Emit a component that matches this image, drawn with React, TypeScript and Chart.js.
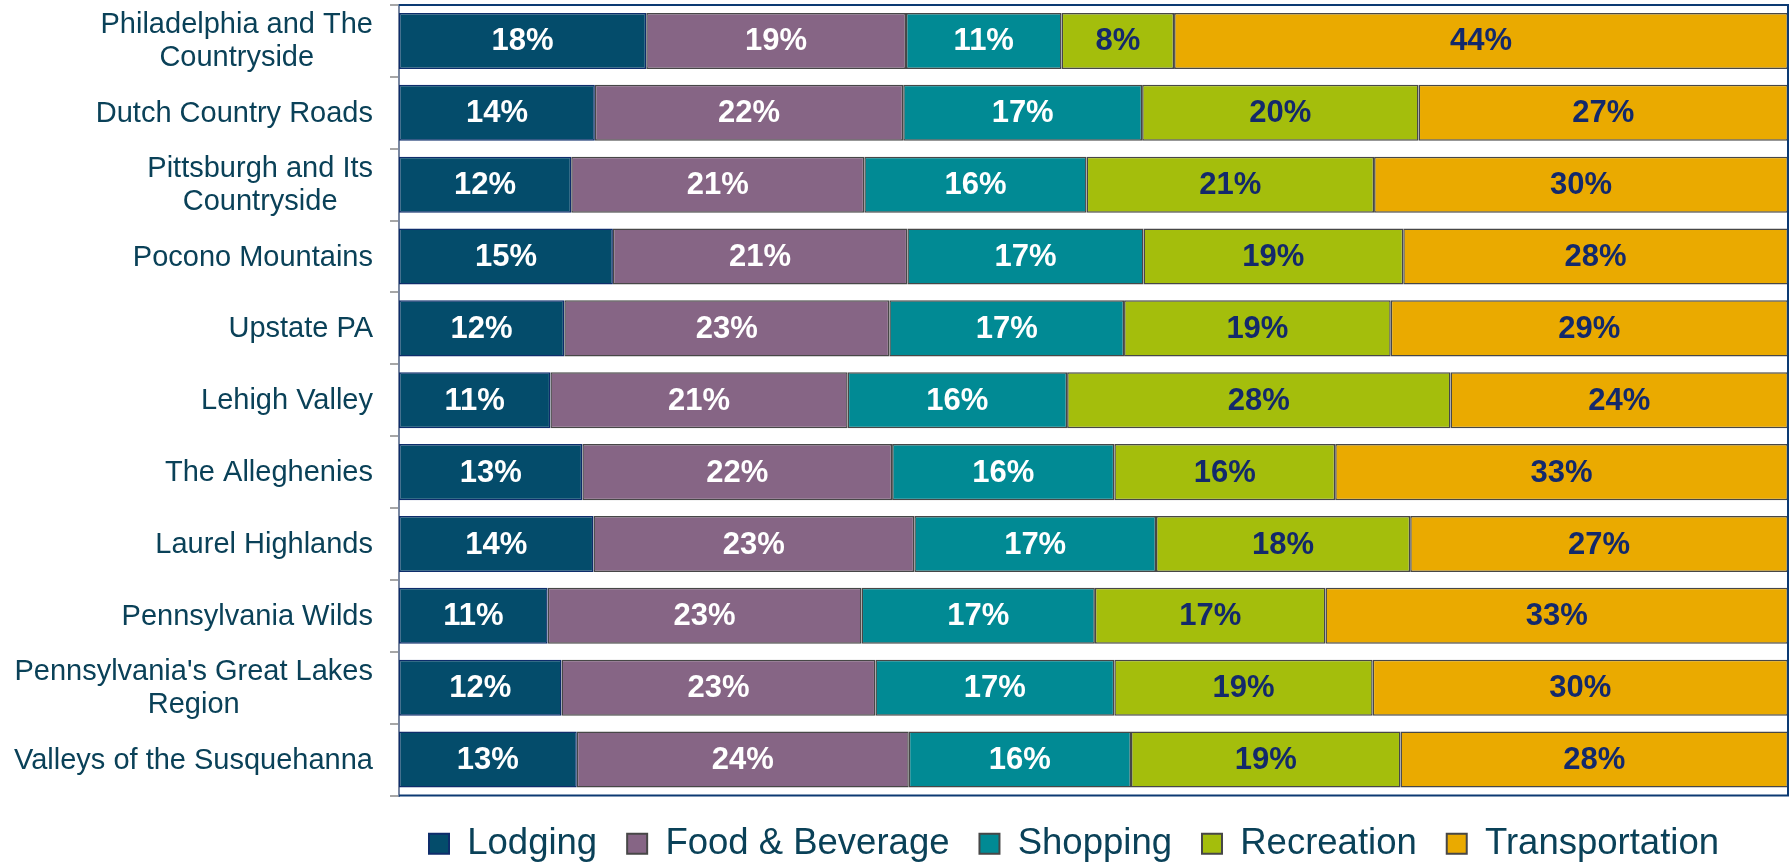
import React, { useEffect, useRef } from "react";
import { Chart, registerables } from "chart.js";

Chart.register(...registerables);

const regions: (string | string[])[] = [
  ["Philadelphia and The", "Countryside"],
  "Dutch Country Roads",
  ["Pittsburgh and Its", "Countryside"],
  "Pocono Mountains",
  "Upstate PA",
  "Lehigh Valley",
  "The Alleghenies",
  "Laurel Highlands",
  "Pennsylvania Wilds",
  ["Pennsylvania's Great Lakes", "Region"],
  "Valleys of the Susquehanna",
];

const seriesNames = ["Lodging", "Food & Beverage", "Shopping", "Recreation", "Transportation"];

const lodging = [17.8, 14.1, 12.4, 15.4, 11.9, 10.9, 13.2, 14.0, 10.7, 11.7, 12.8];
const foodBeverage = [18.7, 22.2, 21.1, 21.2, 23.4, 21.4, 22.3, 23.1, 22.6, 22.6, 23.9];
const shopping = [11.2, 17.2, 16.0, 17.0, 16.9, 15.8, 16.0, 17.4, 16.8, 17.2, 16.0];
const recreation = [8.1, 19.9, 20.7, 18.7, 19.2, 27.6, 15.9, 18.3, 16.6, 18.6, 19.4];
const transportation = [44.2, 26.6, 29.8, 27.7, 28.6, 24.3, 32.6, 27.2, 33.3, 29.9, 27.9];

const fills = ["#044C6B", "#866585", "#018A94", "#A4BE0C", "#EAAA00"];
const borders = ["#0E2D6B", "#474747", "#474747", "#474747", "#474747"];
const labelColors = ["#FFFFFF", "#FFFFFF", "#FFFFFF", "#13296B", "#13296B"];

const FONT = "'Liberation Sans', Arial, sans-serif";
const TEXT = "#0A4158";

export default function App() {
  const ref = useRef<HTMLCanvasElement | null>(null);

  useEffect(() => {
    if (!ref.current) return;
    const values = [lodging, foodBeverage, shopping, recreation, transportation];

    const valueLabels = {
      id: "valueLabels",
      afterDatasetsDraw(chart: any) {
        const ctx = chart.ctx;
        ctx.save();
        ctx.font = `bold 31px ${FONT}`;
        ctx.textAlign = "center";
        ctx.textBaseline = "middle";
        chart.data.datasets.forEach((ds: any, di: number) => {
          const meta = chart.getDatasetMeta(di);
          meta.data.forEach((el: any, i: number) => {
            const v = ds.data[i];
            const cx = (el.x + el.base) / 2;
            ctx.fillStyle = labelColors[di];
            ctx.fillText(`${Math.round(v)}%`, cx, el.y + 1);
          });
        });
        ctx.restore();
      },
    };

    const categoryLabels = {
      id: "categoryLabels",
      afterDraw(chart: any) {
        const ctx = chart.ctx;
        const yScale = chart.scales.y;
        ctx.save();
        ctx.font = `29px ${FONT}`;
        ctx.fillStyle = TEXT;
        ctx.textAlign = "center";
        ctx.textBaseline = "middle";
        const rightX = yScale.right - 26;
        (chart.data.labels as any[]).forEach((lab, i) => {
          const lines: string[] = Array.isArray(lab) ? lab : [lab];
          const w = Math.max(...lines.map((l) => ctx.measureText(l).width));
          const cx = rightX - w / 2;
          const y = yScale.getPixelForValue(i);
          lines.forEach((l, k) => {
            ctx.fillText(l, cx, y + 1 + (k - (lines.length - 1) / 2) * 33);
          });
        });
        ctx.restore();
      },
    };

    const plotFrame = {
      id: "plotFrame",
      afterDraw(chart: any) {
        const { left, right, top, bottom } = chart.chartArea;
        const ctx = chart.ctx;
        ctx.save();
        ctx.strokeStyle = "#0C3A73";
        ctx.lineWidth = 2;
        ctx.beginPath();
        ctx.moveTo(left, top);
        ctx.lineTo(right, top);
        ctx.lineTo(right, bottom);
        ctx.lineTo(left, bottom);
        ctx.stroke();
        ctx.restore();
      },
    };

    const chart = new Chart(ref.current, {
      type: "bar",
      data: {
        labels: regions as any,
        datasets: seriesNames.map((name, i) => ({
          label: name,
          data: values[i],
          backgroundColor: fills[i],
          borderColor: borders[i],
          borderWidth: 1.5,
          borderSkipped: false,
          categoryPercentage: 1,
          barPercentage: 0.78,
        })),
      },
      options: {
        indexAxis: "y",
        animation: false,
        responsive: true,
        maintainAspectRatio: false,
        layout: { padding: { top: 5, right: 4, left: 0, bottom: 0 } },
        scales: {
          x: {
            stacked: true,
            min: 0,
            max: 100,
            display: false,
          },
          y: {
            stacked: true,
            afterFit(scale: any) {
              scale.width = 399;
            },
            ticks: { display: false },
            grid: {
              drawOnChartArea: false,
              drawTicks: true,
              tickLength: 9,
              color: "#A6A6A6",
              lineWidth: 2,
              offset: true,
            },
            border: { display: true, color: "#7886A0", width: 2 },
          },
        },
        plugins: {
          tooltip: { enabled: false },
          legend: {
            position: "bottom",
            align: "start",
            fullSize: false,
            labels: {
              boxWidth: 20,
              boxHeight: 20,
              padding: 30,
              color: TEXT,
              font: { family: FONT, size: 36.5 },
              generateLabels(chart: any) {
                const items = Chart.defaults.plugins.legend.labels.generateLabels(chart);
                return items.map((it: any) => ({ ...it, lineWidth: 2 }));
              },
            },
          },
        },
      },
      plugins: [valueLabels, categoryLabels, plotFrame],
    });

    return () => chart.destroy();
  }, []);

  return (
    <div style={{ position: "fixed", left: 0, top: 0, width: 1792, height: 872, background: "#fff" }}>
      <canvas ref={ref} />
    </div>
  );
}
